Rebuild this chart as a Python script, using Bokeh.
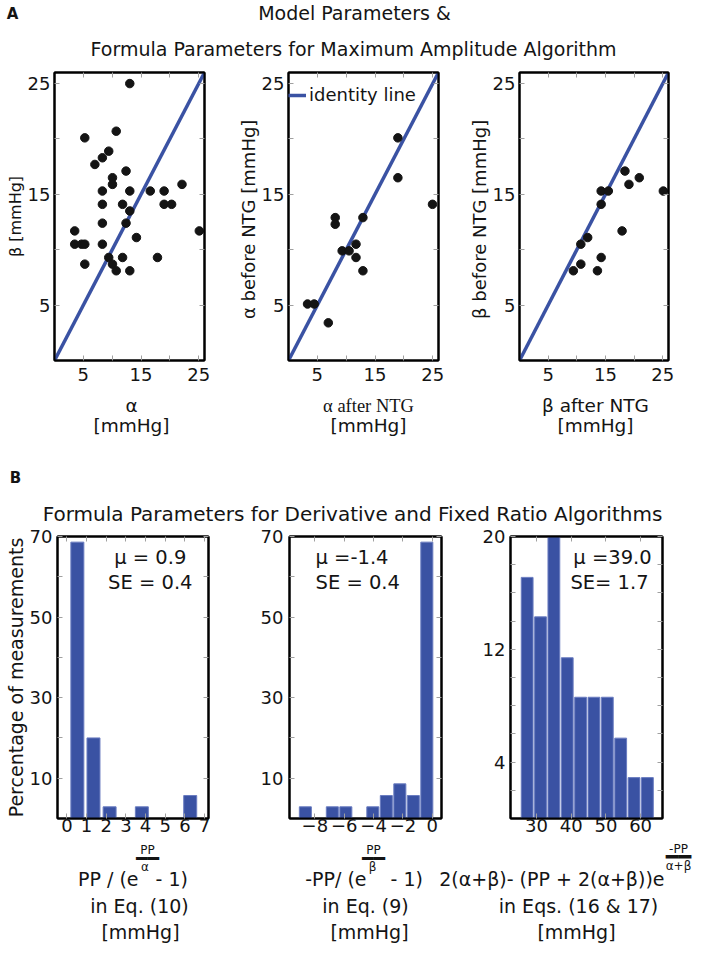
from bokeh.plotting import figure
from bokeh.models import Range1d, FixedTicker, LinearAxis, Label
from bokeh.layouts import column, row
from bokeh.embed import file_html
from bokeh.resources import INLINE

FONT = "DejaVu Sans"
SERIF = "Liberation Serif"
MONO = "DejaVu Sans Mono"
BLUE = "#3a52a3"
BAR_EDGE = "#6a7cc0"
DOT = "#141414"
TXT = "#141414"
TICK = "#a0a0a0"

# ---------------- data ----------------
# Panel A, left: model parameters alpha vs beta [mmHg]
s1_alpha = [13.05, 5.25, 10.7, 9.4, 8.3, 7.0, 12.4, 10.05, 10.05, 8.3, 13.05, 16.6,
            19.0, 22.1, 8.3, 11.8, 19.0, 20.3, 13.05, 8.3, 12.4, 3.5, 25.1, 14.2,
            3.5, 4.7, 5.25, 8.3, 9.4, 11.8, 17.85, 5.25, 10.05, 10.7, 13.05]
s1_beta = [25.0, 20.1, 20.7, 18.9, 18.3, 17.7, 17.1, 16.5, 15.9, 15.3, 15.3, 15.3,
           15.3, 15.9, 14.1, 14.1, 14.1, 14.1, 13.5, 12.4, 12.4, 11.7, 11.7, 11.1,
           10.5, 10.5, 10.5, 10.5, 9.3, 9.3, 9.3, 8.7, 8.7, 8.1, 8.1]
# Panel A, middle: alpha after NTG vs alpha before NTG
s2_after = [18.96, 18.96, 24.96, 8.1, 8.1, 12.9, 9.3, 10.5, 11.7, 11.7, 12.9, 3.3, 4.45, 6.9]
s2_before = [20.1, 16.5, 14.1, 12.9, 12.3, 12.9, 9.9, 9.9, 10.5, 9.3, 8.1, 5.1, 5.1, 3.4]
# Panel A, right: beta after NTG vs beta before NTG
s3_after = [18.4, 20.9, 19.1, 14.25, 15.5, 25.1, 14.25, 17.9, 11.9, 10.7, 14.25, 10.7, 9.4, 13.6]
s3_before = [17.1, 16.5, 15.9, 15.3, 15.3, 15.3, 14.1, 11.7, 11.1, 10.5, 9.3, 8.7, 8.1, 8.1]
identity = [0, 26]
scatter_ticks = [5, 15, 25]
scatter_minor = [10, 20]

# Panel B histograms (percentage of measurements)
h1_centers = [0.53, 1.35, 2.17, 2.99, 3.81, 4.63, 5.45, 6.27]
h1_pct = [68.6, 20.0, 2.9, 0.0, 2.9, 0.0, 0.0, 5.7]
h2_centers = [-8.65, -7.73, -6.81, -5.89, -4.97, -4.05, -3.13, -2.21, -1.29, -0.37]
h2_pct = [2.9, 0.0, 2.9, 2.9, 0.0, 2.9, 5.7, 8.6, 5.7, 68.6]
h3_centers = [27.3, 31.15, 35.0, 38.85, 42.7, 46.55, 50.4, 54.25, 58.1, 61.95]
h3_pct = [17.1, 14.3, 20.0, 11.4, 8.6, 8.6, 8.6, 5.7, 2.9, 2.9]
h1_xticks = [0, 1, 2, 3, 4, 5, 6, 7]
h2_xticks = [-8, -6, -4, -2, 0]
h3_xticks = [30, 40, 50, 60]
h12_yticks = [10, 30, 50, 70]
h12_yminor = [20, 40, 60]
h3_yticks = [4, 12, 20]
h3_yminor = [2, 6, 8, 10, 14, 16, 18]

stats1 = ["\u03bc  = 0.9", "SE = 0.4"]
stats2 = ["\u03bc  =-1.4", "SE = 0.4"]
stats3 = ["\u03bc =39.0", "SE= 1.7"]


# ---------------- helpers ----------------
def blank(w, h, xr, yr):
    p = figure(width=w, height=h, x_range=Range1d(*xr), y_range=Range1d(*yr),
               x_axis_type=None, y_axis_type=None, toolbar_location=None,
               output_backend="svg", min_border=0)
    p.outline_line_color = None
    p.grid.visible = False
    return p


def panel(fw, fh, xr, yr, lb, rb, tb, bb):
    p = figure(frame_width=fw, frame_height=fh, x_range=Range1d(*xr), y_range=Range1d(*yr),
               toolbar_location=None, output_backend="svg",
               min_border_left=lb, min_border_right=rb,
               min_border_top=tb, min_border_bottom=bb)
    p.grid.visible = False
    p.outline_line_color = "black"
    p.outline_line_width = 2
    return p


def style_axis(ax, standoff):
    ax.major_tick_in = 5
    ax.major_tick_out = 0
    ax.minor_tick_in = 5
    ax.minor_tick_out = 0
    ax.major_tick_line_color = TICK
    ax.minor_tick_line_color = TICK
    ax.axis_line_color = "black"
    ax.axis_line_width = 2
    ax.major_label_text_font = FONT
    ax.major_label_text_font_size = "18px"
    ax.major_label_text_color = TXT
    ax.major_label_standoff = standoff


def mirror(ticks, minor):
    ax = LinearAxis(ticker=FixedTicker(ticks=ticks, minor_ticks=minor))
    style_axis(ax, 0)
    ax.major_label_overrides = {t: "" for t in ticks}
    ax.major_label_text_font_size = "1px"
    return ax


def axes(p, xt, xm, yt, ym, xstand, ystand, ylabel=None, ysize="18px"):
    p.xaxis.ticker = FixedTicker(ticks=xt, minor_ticks=xm)
    p.yaxis.ticker = FixedTicker(ticks=yt, minor_ticks=ym)
    style_axis(p.xaxis[0], xstand)
    style_axis(p.yaxis[0], ystand)
    if ylabel:
        p.yaxis.axis_label = ylabel
        p.yaxis.axis_label_text_font = FONT
        p.yaxis.axis_label_text_font_size = ysize
        p.yaxis.axis_label_text_font_style = "normal"
        p.yaxis.axis_label_text_color = TXT
        p.yaxis.axis_label_standoff = 0
    p.add_layout(mirror(xt, xm), "above")
    p.add_layout(mirror(yt, ym), "right")


def tlabel(p, x, y, text, size="19px", style="normal", align="center", font=FONT):
    p.add_layout(Label(x=x, y=y, text=text, text_align=align, text_baseline="middle",
                       text_font=font, text_font_size=size, text_font_style=style,
                       text_color=TXT))


def flabel(p, g, px, py, text, size="19.5px", align="center"):
    # label inside a panel frame, placed in canvas pixels
    L, R, T, B, (x0, x1), (y0, y1) = g
    x = x0 + (px - L) / (R - L) * (x1 - x0)
    y = y0 + (B - py) / (B - T) * (y1 - y0)
    tlabel(p, x, y, text, size=size, align=align)


W = 693
# ---------------- title A (canvas y 0..70) ----------------
titleA = blank(W, 70, (0, W), (70, 0))
tlabel(titleA, 12, 13, "A", size="15px", style="bold")
tlabel(titleA, 354, 12, "Model Parameters &")
tlabel(titleA, 353, 48, "Formula Parameters for Maximum Amplitude Algorithm")

# ---------------- scatter row (canvas y 70..392, frames 72..360) ----------------
SR = (0, 26)

s1 = panel(150, 288, SR, SR, 54, 26, 2, 32)
axes(s1, scatter_ticks, scatter_minor, scatter_ticks, scatter_minor, 7, 4,
     "\u03b2 [mmHg]", ysize="16px")
s1.line(identity, identity, line_color=BLUE, line_width=3.5)
s1.scatter(s1_alpha, s1_beta, size=8.5, fill_color=DOT, line_color=DOT)

s2 = panel(150, 288, SR, SR, 58, 23, 2, 32)
axes(s2, scatter_ticks, scatter_minor, scatter_ticks, scatter_minor, 7, 4,
     "\u03b1 before NTG  [mmHg]")
s2.line(identity, identity, line_color=BLUE, line_width=3.5, legend_label="identity line")
s2.scatter(s2_after, s2_before, size=8.5, fill_color=DOT, line_color=DOT)
lg = s2.legend[0]
lg.location = (0, 255)
lg.border_line_color = None
lg.background_fill_alpha = 0
lg.padding = 3
lg.margin = 0
lg.spacing = 0
lg.glyph_width = 18
lg.glyph_height = 20
lg.label_height = 20
lg.label_standoff = 3
lg.label_text_font = FONT
lg.label_text_font_size = "18px"
lg.label_text_color = TXT

s3 = panel(149, 288, SR, SR, 58, 25, 2, 32)
axes(s3, scatter_ticks, scatter_minor, scatter_ticks, scatter_minor, 7, 4,
     "\u03b2 before NTG  [mmHg]")
s3.line(identity, identity, line_color=BLUE, line_width=3.5)
s3.scatter(s3_after, s3_before, size=8.5, fill_color=DOT, line_color=DOT)

# ---------------- x labels of panel A (canvas y 392..440) ----------------
labelsA = blank(W, 48, (0, W), (440, 392))
tlabel(labelsA, 131, 405, "\u03b1", size="18.5px")
tlabel(labelsA, 131, 425, "[mmHg]", size="18.5px")
tlabel(labelsA, 368, 405, "\u03b1 after NTG", size="18.5px", font=SERIF)
tlabel(labelsA, 368, 425, "[mmHg]", size="18.5px")
tlabel(labelsA, 595, 405, "\u03b2 after NTG", size="18.5px")
tlabel(labelsA, 595, 425, "[mmHg]", size="18.5px")

# ---------------- title B (canvas y 440..525) ----------------
titleB = blank(W, 85, (0, W), (525, 440))
tlabel(titleB, 15, 477, "B", size="15px", style="bold")
tlabel(titleB, 352, 513, "Formula Parameters for Derivative and Fixed Ratio Algorithms",
       size="20px")

# ---------------- histogram row (canvas y 525..840, frames 536..818) ----------------
X1 = (-0.48, 7.2)
X2 = (-9.73, 0.63)
X3 = (22.5, 66.3)
Y12 = (0, 70)
Y3 = (0, 20)
gH1 = (57, 208, 536, 818, X1, Y12)
gH2 = (289, 441, 536, 818, X2, Y12)
gH3 = (510, 662, 536, 818, X3, Y3)

h1 = panel(151, 282, X1, Y12, 57, 39, 11, 22)
axes(h1, h1_xticks, [], h12_yticks, h12_yminor, 0, 5, "Percentage of measurements",
     ysize="19px")
h1.vbar(x=h1_centers, top=h1_pct, width=0.66, bottom=0, fill_color=BLUE, line_color=BAR_EDGE)
flabel(h1, gH1, 192, 557, stats1[0], align="right")
flabel(h1, gH1, 192, 582, stats1[1], align="right")

h2 = panel(152, 282, X2, Y12, 42, 38, 11, 22)
axes(h2, h2_xticks, [], h12_yticks, h12_yminor, 0, 6)
h2.vbar(x=h2_centers, top=h2_pct, width=0.82, bottom=0, fill_color=BLUE, line_color=BAR_EDGE)
flabel(h2, gH2, 315, 557, stats2[0], align="left")
flabel(h2, gH2, 315, 582, stats2[1], align="left")

h3 = panel(152, 282, X3, Y3, 31, 31, 11, 22)
axes(h3, h3_xticks, [], h3_yticks, h3_yminor, 0, 5)
h3.vbar(x=h3_centers, top=h3_pct, width=3.4, bottom=0, fill_color=BLUE, line_color=BAR_EDGE)
flabel(h3, gH3, 612, 557, stats3[0], align="center")
flabel(h3, gH3, 609, 582, stats3[1], align="center")

# ---------------- x labels of panel B (canvas y 840..943) ----------------
labelsB = blank(W, 103, (0, W), (943, 840))
BAR = "\u2501\u2501"
# left histogram
tlabel(labelsB, 147, 849, "PP", size="12px")
tlabel(labelsB, 147, 857, BAR, size="19px", font=MONO)
tlabel(labelsB, 144.5, 866, "\u03b1", size="12px")
tlabel(labelsB, 138, 878, "PP / (e", align="right")
tlabel(labelsB, 155, 878, "- 1)", align="left")
tlabel(labelsB, 139, 905, "in Eq. (10)")
tlabel(labelsB, 140, 931, "[mmHg]")
# middle histogram
tlabel(labelsB, 373, 849, "PP", size="12px")
tlabel(labelsB, 373, 857, BAR, size="19px", font=MONO)
tlabel(labelsB, 372, 866, "\u03b2", size="12px")
tlabel(labelsB, 366, 878, "-PP/ (e", align="right")
tlabel(labelsB, 390, 878, "- 1)", align="left")
tlabel(labelsB, 365, 905, "in Eq. (9)")
tlabel(labelsB, 369, 931, "[mmHg]")
# right histogram
tlabel(labelsB, 664, 878, "2(\u03b1+\u03b2)- (PP + 2(\u03b1+\u03b2))e", align="right")
tlabel(labelsB, 678, 848, "-PP", size="12px")
tlabel(labelsB, 678, 856, BAR, size="21px", font=MONO)
tlabel(labelsB, 678, 865, "\u03b1+\u03b2", size="12px")
tlabel(labelsB, 578, 905, "in Eqs. (16 & 17)")
tlabel(labelsB, 576, 931, "[mmHg]")

layout = column(titleA, row(s1, s2, s3), labelsA, titleB, row(h1, h2, h3), labelsB)
open("out.html", "w").write(file_html(layout, INLINE))
